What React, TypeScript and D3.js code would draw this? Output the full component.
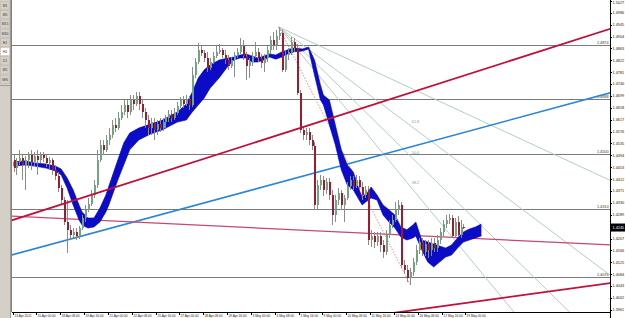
import React from "react";
import * as d3 from "d3";

const W = 625;
const H = 318;
const PL = 12, PR = 610, PT = 0, PB = 312;

// ---- Data (EURUSD H4) ----
const opens = [1.4478,1.4450,1.4471,1.4485,1.4461,1.4478,1.4495,1.4471,1.4492,1.4478,1.4495,1.4485,1.4468,1.4478,1.4444,1.4423,1.4381,1.4340,1.4264,1.4237,1.4219,1.4230,1.4216,1.4243,1.4278,1.4306,1.4326,1.4357,1.4392,1.4478,1.4530,1.4513,1.4547,1.4564,1.4599,1.4588,1.4623,1.4644,1.4668,1.4644,1.4685,1.4671,1.4699,1.4671,1.4644,1.4616,1.4588,1.4609,1.4582,1.4602,1.4588,1.4609,1.4623,1.4637,1.4623,1.4640,1.4664,1.4685,1.4671,1.4688,1.4668,1.4771,1.4816,1.4858,1.4847,1.4830,1.4795,1.4816,1.4837,1.4851,1.4858,1.4840,1.4823,1.4802,1.4823,1.4840,1.4851,1.4871,1.4837,1.4802,1.4816,1.4837,1.4851,1.4830,1.4813,1.4830,1.4858,1.4892,1.4875,1.4906,1.4916,1.4789,1.4840,1.4851,1.4885,1.4864,1.4709,1.4582,1.4564,1.4575,1.4547,1.4526,1.4323,1.4392,1.4409,1.4375,1.4402,1.4357,1.4288,1.4340,1.4364,1.4323,1.4347,1.4388,1.4409,1.4388,1.4409,1.4385,1.4357,1.4375,1.4202,1.4216,1.4195,1.4216,1.4185,1.4161,1.4219,1.4254,1.4271,1.4306,1.4323,1.4116,1.4099,1.4071,1.4092,1.4126,1.4168,1.4195,1.4161,1.4188,1.4168,1.4192,1.4174,1.4202,1.4230,1.4257,1.4271,1.4278,1.4216,1.4264,1.4219,1.4247];
const highs = [1.4495,1.4485,1.4513,1.4495,1.4492,1.4506,1.4513,1.4506,1.4513,1.4506,1.4506,1.4495,1.4488,1.4485,1.4461,1.4437,1.4392,1.4350,1.4340,1.4254,1.4243,1.4243,1.4250,1.4288,1.4323,1.4347,1.4375,1.4409,1.4513,1.4547,1.4547,1.4564,1.4588,1.4616,1.4623,1.4644,1.4668,1.4685,1.4685,1.4702,1.4702,1.4713,1.4713,1.4685,1.4657,1.4633,1.4623,1.4623,1.4616,1.4623,1.4623,1.4633,1.4651,1.4651,1.4657,1.4678,1.4695,1.4699,1.4702,1.4699,1.4799,1.4830,1.4882,1.4871,1.4858,1.4851,1.4830,1.4851,1.4871,1.4878,1.4864,1.4858,1.4840,1.4833,1.4851,1.4864,1.4899,1.4892,1.4851,1.4830,1.4851,1.4885,1.4864,1.4844,1.4844,1.4871,1.4906,1.4920,1.4927,1.4937,1.4927,1.4858,1.4864,1.4902,1.4899,1.4878,1.4720,1.4595,1.4588,1.4588,1.4564,1.4540,1.4409,1.4426,1.4423,1.4416,1.4416,1.4375,1.4357,1.4381,1.4375,1.4357,1.4402,1.4423,1.4423,1.4426,1.4423,1.4402,1.4388,1.4388,1.4237,1.4230,1.4230,1.4230,1.4202,1.4237,1.4271,1.4288,1.4333,1.4340,1.4333,1.4133,1.4116,1.4105,1.4140,1.4185,1.4209,1.4209,1.4202,1.4202,1.4209,1.4209,1.4219,1.4243,1.4271,1.4288,1.4292,1.4288,1.4278,1.4285,1.4271,1.4257];
const lows = [1.4437,1.4426,1.4461,1.4409,1.4375,1.4450,1.4444,1.4457,1.4426,1.4468,1.4471,1.4454,1.4444,1.4426,1.4409,1.4368,1.4323,1.4254,1.4157,1.4202,1.4209,1.4202,1.4205,1.4237,1.4264,1.4299,1.4319,1.4347,1.4381,1.4471,1.4495,1.4506,1.4530,1.4554,1.4575,1.4582,1.4616,1.4633,1.4623,1.4633,1.4651,1.4664,1.4651,1.4623,1.4588,1.4564,1.4564,1.4547,1.4564,1.4575,1.4578,1.4588,1.4609,1.4609,1.4616,1.4633,1.4657,1.4657,1.4664,1.4651,1.4661,1.4761,1.4809,1.4837,1.4816,1.4782,1.4789,1.4809,1.4830,1.4844,1.4830,1.4809,1.4789,1.4795,1.4764,1.4830,1.4844,1.4823,1.4754,1.4761,1.4802,1.4830,1.4816,1.4795,1.4782,1.4816,1.4844,1.4858,1.4858,1.4892,1.4782,1.4782,1.4823,1.4840,1.4851,1.4702,1.4571,1.4547,1.4547,1.4530,1.4513,1.4306,1.4306,1.4375,1.4354,1.4361,1.4340,1.4254,1.4264,1.4323,1.4306,1.4264,1.4340,1.4375,1.4375,1.4381,1.4375,1.4340,1.4347,1.4185,1.4178,1.4174,1.4181,1.4161,1.4140,1.4150,1.4209,1.4243,1.4264,1.4288,1.4105,1.4085,1.4057,1.4047,1.4078,1.4116,1.4154,1.4147,1.4147,1.4140,1.4147,1.4161,1.4161,1.4188,1.4216,1.4243,1.4257,1.4209,1.4209,1.4212,1.4209,1.4240];
const closes = [1.4450,1.4471,1.4485,1.4461,1.4478,1.4495,1.4471,1.4492,1.4478,1.4495,1.4485,1.4468,1.4478,1.4444,1.4423,1.4381,1.4340,1.4264,1.4237,1.4219,1.4230,1.4216,1.4243,1.4278,1.4306,1.4326,1.4357,1.4392,1.4478,1.4530,1.4513,1.4547,1.4564,1.4599,1.4588,1.4623,1.4644,1.4668,1.4644,1.4685,1.4671,1.4699,1.4671,1.4644,1.4616,1.4588,1.4609,1.4582,1.4602,1.4588,1.4609,1.4623,1.4637,1.4623,1.4640,1.4664,1.4685,1.4671,1.4688,1.4668,1.4771,1.4816,1.4858,1.4847,1.4830,1.4795,1.4816,1.4837,1.4851,1.4858,1.4840,1.4823,1.4802,1.4823,1.4840,1.4851,1.4871,1.4837,1.4802,1.4816,1.4837,1.4851,1.4830,1.4813,1.4830,1.4858,1.4892,1.4875,1.4906,1.4916,1.4789,1.4840,1.4851,1.4885,1.4864,1.4709,1.4582,1.4564,1.4575,1.4547,1.4526,1.4323,1.4392,1.4409,1.4375,1.4402,1.4357,1.4288,1.4340,1.4364,1.4323,1.4347,1.4388,1.4409,1.4388,1.4409,1.4385,1.4357,1.4375,1.4202,1.4216,1.4195,1.4216,1.4185,1.4161,1.4219,1.4254,1.4271,1.4306,1.4323,1.4116,1.4099,1.4071,1.4092,1.4126,1.4168,1.4195,1.4161,1.4188,1.4168,1.4192,1.4174,1.4202,1.4230,1.4257,1.4271,1.4278,1.4216,1.4264,1.4219,1.4247,1.4245];

// cloud band (bar index, upper price, lower price)
const cloudIdx = [0,4,7,11,14,16,18,20,22,23,25,27,29,31,32,35,37,39,42,46,50,55,58,60,62,64,66,69,72,74,76,78,80,82,84,86,88,90,92,94,97,99,101,103,104,106,108,110,112,114,116,117,119,120,122,124,126,128,130,132,134,135,137,139,141,143,145,147,149,151,153,155,157];
const cloudUp = [1.4471,1.4475,1.4468,1.4464,1.4457,1.4447,1.4416,1.4375,1.4323,1.4299,1.4278,1.4278,1.4312,1.4357,1.4388,1.4478,1.4537,1.4571,1.4588,1.4602,1.4616,1.4644,1.4671,1.4713,1.4761,1.4789,1.4806,1.4823,1.4830,1.4833,1.4840,1.4844,1.4837,1.4830,1.4837,1.4844,1.4840,1.4851,1.4858,1.4864,1.4861,1.4868,1.4823,1.4737,1.4702,1.4685,1.4599,1.4513,1.4461,1.4437,1.4375,1.4350,1.4368,1.4385,1.4357,1.4323,1.4306,1.4288,1.4247,1.4237,1.4254,1.4264,1.4202,1.4195,1.4188,1.4181,1.4174,1.4185,1.4209,1.4230,1.4240,1.4247,1.4257];
const cloudDn = [1.4457,1.4461,1.4457,1.4450,1.4440,1.4426,1.4381,1.4323,1.4271,1.4254,1.4243,1.4247,1.4264,1.4299,1.4323,1.4409,1.4461,1.4513,1.4547,1.4568,1.4582,1.4609,1.4616,1.4644,1.4668,1.4692,1.4726,1.4761,1.4802,1.4823,1.4830,1.4830,1.4816,1.4816,1.4823,1.4833,1.4826,1.4833,1.4844,1.4851,1.4854,1.4861,1.4771,1.4685,1.4668,1.4599,1.4530,1.4444,1.4392,1.4375,1.4340,1.4323,1.4340,1.4347,1.4340,1.4288,1.4264,1.4243,1.4212,1.4202,1.4209,1.4216,1.4168,1.4126,1.4109,1.4126,1.4143,1.4150,1.4174,1.4195,1.4202,1.4209,1.4216];

// horizontal levels
const levels = [1.4874, 1.4688, 1.4500, 1.4310, 1.4076];

// trend lines: [bar0, price0, bar1, price1]
const redUp = [0, 1.4272, 200, 1.4930];
const blueUp = [0, 1.4152, 200, 1.4709];
const pinkDown = [0, 1.4284, 200, 1.4185];
const redLow = [130, 1.3954, 200, 1.4053];

// fibonacci fan
const fanStart = [89, 1.4937];
const fanEnd = [133, 1.4050];
const fanLevels = [0.382, 0.5, 0.618, 0.764];
const fanLabels = ["38.2", "50.0", "61.8", ""];

const priceTicks = [1.5027,1.4986,1.4945,1.4904,1.4863,1.4822,1.4781,1.4740,1.4699,1.4658,1.4617,1.4576,1.4535,1.4494,1.4453,1.4412,1.4371,1.4330,1.4289,1.4248,1.4207,1.4166,1.4125,1.4084,1.4043,1.4002,1.3961];
const timeLabels = ["13 Apr 2011","15 Apr 00:00","18 Apr 08:00","19 Apr 16:00","21 Apr 00:00","22 Apr 08:00","25 Apr 16:00","27 Apr 00:00","28 Apr 08:00","29 Apr 16:00","3 May 00:00","4 May 08:00","5 May 16:00","9 May 00:00","10 May 08:00","11 May 16:00","13 May 00:00","16 May 08:00","17 May 16:00","19 May 00:00"];
const barsPerLabel = 8;
const timeframes = ["M1","M5","M15","M30","H1","H4","D1","W1","MN"];

export default function App() {
  const x = d3.scaleLinear().domain([0, 200]).range([13.5, 609.5]);
  const y = d3.scaleLinear().domain([1.39536, 1.503]).range([PB, PT]);
  const FONT = "Liberation Sans, Arial, sans-serif";

  const area = d3
    .area<number>()
    .x((d) => x(cloudIdx[d]))
    .y0((d) => y(cloudDn[d]))
    .y1((d) => y(cloudUp[d]));
  const idxs = cloudIdx.map((_, i) => i);
  const upLine = d3.line<number>().x((d) => x(cloudIdx[d])).y((d) => y(cloudUp[d]));
  const dnLine = d3.line<number>().x((d) => x(cloudIdx[d])).y((d) => y(cloudDn[d]));

  const extend = (l: number[], b0: number, b1: number) => {
    const s = (l[3] - l[1]) / (l[2] - l[0]);
    return [x(b0), y(l[1] + s * (b0 - l[0])), x(b1), y(l[1] + s * (b1 - l[0]))];
  };
  const trend = (l: number[], color: string, w: number) => {
    const [x1, y1, x2, y2] = extend(l, -2, 202);
    return <line x1={x1} y1={y1} x2={x2} y2={y2} stroke={color} strokeWidth={w} />;
  };

  const last = closes[closes.length - 1];
  const lastY = y(last);

  return (
    <div style={{ position: "fixed", left: 0, top: 0, width: W, height: H, background: "#fff" }}>
      <svg width={W} height={H} style={{ display: "block" }} fontFamily={FONT}>
        <defs>
          <clipPath id="plot">
            <rect x={PL} y={PT} width={PR - PL} height={PB - PT} />
          </clipPath>
        </defs>
        <rect x={0} y={0} width={W} height={H} fill="#ffffff" />

        <g clipPath="url(#plot)">
          {/* horizontal levels */}
          {levels.map((p, i) => (
            <g key={"lv" + i}>
              <line x1={PL} x2={PR} y1={Math.round(y(p)) + 0.5} y2={Math.round(y(p)) + 0.5} stroke="#7a7a7a" strokeWidth={1} />
              <text x={PR - 1.5} y={Math.round(y(p)) - 1} fontSize={3.8} textAnchor="end" fill="#333">
                {p.toFixed(4)}
              </text>
            </g>
          ))}

          {/* fib fan */}
          {fanLevels.map((L, i) => {
            const pt = fanEnd[1] + L * (fanStart[1] - fanEnd[1]);
            const s = (pt - fanStart[1]) / (fanEnd[0] - fanStart[0]);
            const b1 = 205;
            return (
              <g key={"fan" + i}>
                <line
                  x1={x(fanStart[0])}
                  y1={y(fanStart[1])}
                  x2={x(b1)}
                  y2={y(fanStart[1] + s * (b1 - fanStart[0]))}
                  stroke="#a9c9b9"
                  strokeWidth={0.9}
                />
                {fanLabels[i] && (
                  <text x={x(fanEnd[0]) + 2} y={y(pt) - 2} fontSize={3.8} fill="#7fa08e">
                    {fanLabels[i]}
                  </text>
                )}
              </g>
            );
          })}
          <line
            x1={x(fanStart[0])}
            y1={y(fanStart[1])}
            x2={x(fanEnd[0])}
            y2={y(fanEnd[1])}
            stroke="#d9706f"
            strokeWidth={0.8}
            strokeDasharray="1.5,1.5"
          />

          {/* trend lines */}
          {trend(blueUp, "#2a86d4", 1.6)}
          {trend(pinkDown, "#c8476e", 1.3)}

          {/* cloud */}
          <path d={area(idxs) || ""} fill="#0c0cc8" />
          <path d={upLine(idxs) || ""} fill="none" stroke="#0000b8" strokeWidth={0.6} />
          <path d={dnLine(idxs) || ""} fill="none" stroke="#0000b8" strokeWidth={0.6} />

          {/* candles */}
          {closes.map((c, i) => {
            const o = opens[i];
            const cx = Math.round(x(i));
            const bull = c >= o;
            const top = Math.min(y(o), y(c));
            const bot = Math.max(y(o), y(c));
            return (
              <g key={"c" + i} shapeRendering="crispEdges">
                <line x1={cx + 0.5} x2={cx + 0.5} y1={y(highs[i])} y2={y(lows[i])} stroke="#8c8c8c" strokeWidth={1} />
                <rect x={cx - 0.5} y={top} width={2} height={Math.max(1, bot - top)} fill={bull ? "#6fa57f" : "#9e1a2c"} />
              </g>
            );
          })}

          {trend(redUp, "#c0103c", 1.8)}
          {trend(redLow, "#c0103c", 1.8)}
        </g>

        {/* frame */}
        <line x1={PL - 0.5} x2={PL - 0.5} y1={0} y2={PB} stroke="#808080" />
        <line x1={PR + 0.5} x2={PR + 0.5} y1={0} y2={H} stroke="#000" />
        <line x1={PL} x2={PR} y1={PB + 0.5} y2={PB + 0.5} stroke="#000" />

        {/* price axis */}
        {priceTicks.map((p, i) =>
          Math.abs(y(p) - lastY) < 6 ? null : (
            <g key={"pt" + i}>
              <line x1={PR} x2={PR + 2} y1={Math.round(y(p)) + 0.5} y2={Math.round(y(p)) + 0.5} stroke="#000" />
              <text x={PR + 2.5} y={Math.max(3.5, y(p) + 1.4)} fontSize={3.8} fill="#222">
                {p.toFixed(4)}
              </text>
            </g>
          )
        )}
        <rect x={PR + 1} y={lastY - 4} width={W - PR - 1} height={8} fill="#000" />
        <text x={PR + 2.5} y={lastY + 1.4} fontSize={3.8} fill="#fff">
          {last.toFixed(4)}
        </text>

        {/* time axis */}
        {timeLabels.map((t, i) => {
          const bx = Math.round(x(i * barsPerLabel)) - 1;
          return (
            <g key={"tl" + i}>
              <line x1={bx + 0.5} x2={bx + 0.5} y1={PB} y2={PB + 3} stroke="#000" />
              <text x={bx + 1.5} y={317} fontSize={3.2} fill="#222">
                {t}
              </text>
            </g>
          );
        })}

        {/* left toolbar */}
        <rect x={0} y={0} width={PL - 1} height={H} fill="#d4d0c8" />
        <line x1={10.5} x2={10.5} y1={0} y2={H} stroke="#a09c94" />
        {timeframes.map((tf, i) => (
          <g key={"tf" + i}>
            <rect
              x={0.5}
              y={1.5 + i * 9.2}
              width={9}
              height={8.2}
              fill={tf === "H4" ? "#ffffff" : "#d4d0c8"}
              stroke="#b8b4ac"
              strokeWidth={0.5}
            />
            <text x={5} y={7 + i * 9.2} fontSize={3.4} textAnchor="middle" fill="#333">
              {tf}
            </text>
          </g>
        ))}
        <line x1={0} x2={10} y1={85.5} y2={85.5} stroke="#a09c94" />
      </svg>
    </div>
  );
}
